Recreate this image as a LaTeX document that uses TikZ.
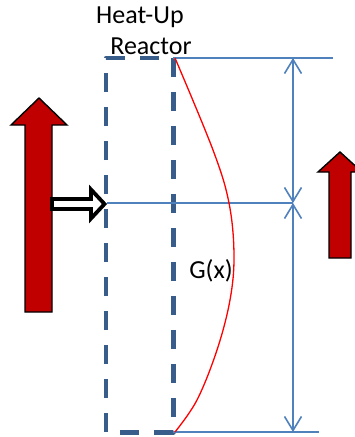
\documentclass[tikz,border=0pt]{standalone}
\usepackage{fontspec}
\setmainfont{Carlito}
\usetikzlibrary{arrows.meta}
\definecolor{reactorblue}{RGB}{56,93,138}
\definecolor{linblue}{RGB}{79,129,189}
\definecolor{darkred}{RGB}{192,0,0}
\tikzset{
  thinblue/.style={draw=linblue, line width=1.6pt},
  dimarrow/.style={thinblue, {Straight Barb[length=14pt,width=17pt,line width=1.6pt]}-{Straight Barb[length=14pt,width=17pt,line width=1.6pt]}},
  bigarrow/.style={fill=darkred, draw=black, line width=1.4pt, line join=miter},
  reactorline/.style={reactorblue, dash pattern=on 19pt off 15pt, line join=round},
  label/.style={font=\fontsize{26}{28}\selectfont, inner sep=0pt, anchor=base}
}
\begin{document}
\begin{tikzpicture}[x=1pt,y=-1pt]
\useasboundingbox (0,0) rectangle (355,437);
% coordinates
\coordinate (TL) at (106,58);
\coordinate (TR) at (173,58);
\coordinate (BR) at (173,432);
\coordinate (BL) at (106,432);
\coordinate (topend) at (333,58);
\coordinate (botend) at (319,432);
\coordinate (midL) at (107,203);
\coordinate (dimT) at (293,58);
\coordinate (dimM) at (293,203);
\coordinate (dimB) at (293,432);
% reactor
\draw[reactorline, line width=4.3pt] (BL) -- (TL) -- (TR);
\draw[reactorline, line width=5pt] (TR) -- (BR) -- (BL);
% horizontal lines
\draw[thinblue] (TR) -- (topend);
\draw[thinblue] (BR) -- (botend);
\draw[thinblue] (midL) -- (dimM);
% dimension arrows
\draw[dimarrow] (dimT) -- (dimM);
\draw[dimarrow] (dimM) -- (dimB);
% red curve
\draw[red, line width=1.3pt] plot[smooth, tension=0.6] coordinates {(175,58) (213,150) (229,203) (234,255) (230,300) (217,350) (197,400) (175,432)};
% left big arrow
\draw[bigarrow] (25,312) -- (25,125) -- (11,125) -- (39,98) -- (67,125) -- (52,125) -- (52,312) -- cycle;
% right big arrow
\draw[bigarrow] (329,258) -- (329,172) -- (318,172) -- (340,152) -- (362,172) -- (351,172) -- (351,258) -- cycle;
% hollow arrow
\draw[fill=white, draw=black, line width=3.8pt, line join=miter] (52,199) -- (91,199) -- (91,189.5) -- (104.5,204) -- (91,218.5) -- (91,209) -- (52,209) -- cycle;
% texts
\node[label] (heat) at (140,23) {Heat-Up};
\node[label] (reactor) at (151,54) {Reactor};
\node[label] (gx) at (211,278) {G(x)};
\end{tikzpicture}
\end{document}
